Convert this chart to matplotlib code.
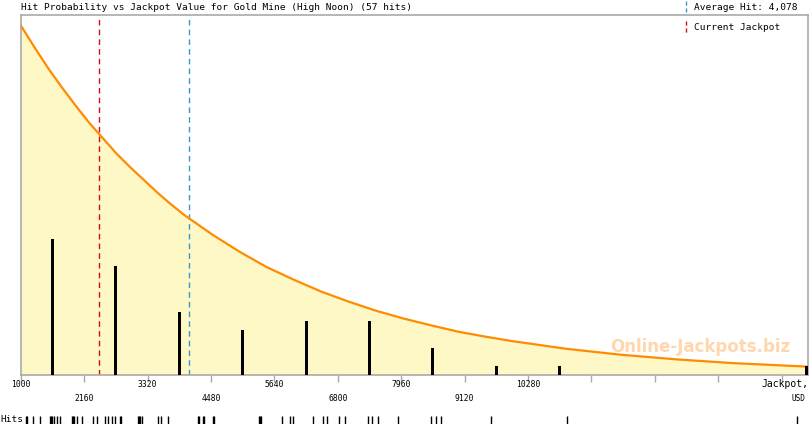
import numpy as np
import matplotlib.pyplot as plt

# histogram of hits (bin width 1160, starting at 1000)
bin_centers = [1580, 2740, 3900, 5060, 6220, 7380, 8540, 9700, 10860, 15370]
bin_counts = [15, 12, 7, 5, 6, 6, 3, 1, 1, 1]

# probability curve (in "hits" units of the bar scale)
curve_x = [1000, 1250, 1500, 1750, 2000, 2250, 2500, 2750, 3000, 3250,
           3500, 3750, 4000, 4500, 5000, 5500, 6000, 6500, 7000, 7500,
           8000, 8500, 9000, 9500, 10000, 11000, 12000, 13000, 14000, 15400]
curve_y = [38.5, 36.1, 33.8, 31.7, 29.7, 27.8, 26.1, 24.4, 22.9, 21.5,
           20.1, 18.8, 17.6, 15.5, 13.6, 11.9, 10.5, 9.2, 8.1, 7.1,
           6.25, 5.5, 4.8, 4.25, 3.75, 2.9, 2.25, 1.75, 1.35, 0.95]

# individual hits for the rug strip
hits = [1097, 1115, 1225, 1353, 1536, 1554, 1572, 1609, 1664, 1718, 1938,
        1956, 1974, 2029, 2121,
        2322, 2395, 2541, 2596, 2669, 2724, 2816, 2834, 3145, 3163, 3182, 3218,
        3505, 3560, 3688, 4236, 4254, 4327, 4346,
        4515, 4533, 5356, 5374, 5393,
        5776, 5923, 5977, 6343, 6526, 6599,
        6819, 6929, 7349, 7422, 7532, 7898,
        8508, 8599, 8691,
        9605, 10994, 15198]

tick_vals = [1000, 2160, 3320, 4480, 5640, 6800, 7960, 9120, 10280,
             11440, 12600, 13760, 14920]
labeled_top = [1000, 3320, 5640, 7960, 10280]
labeled_bottom = [2160, 4480, 6800, 9120]

average_hit = 4078
current_jackpot = 2431
xmin, xmax = 1000, 15400
ymax = 39.6

mono = 'DejaVu Sans Mono'
W, H = 810, 425
fig = plt.figure(figsize=(W / 100, H / 100), dpi=100)
fig.patch.set_facecolor('white')

L, R, T, B = 20.7, 808, 15.3, 375.3
ax = fig.add_axes([L / W, 1 - B / H, (R - L) / W, (B - T) / H])
ax.set_xlim(xmin, xmax)
ax.set_ylim(0, ymax)

ax.fill_between(curve_x, curve_y, 0, color='#fef7c6', lw=0, zorder=1)
ax.plot(curve_x, curve_y, color='#ff8c00', lw=1.6, zorder=3)
ax.bar(bin_centers, bin_counts, width=55, color='black', zorder=4)

ax.axvline(current_jackpot, color='#cc1111', lw=1, ls=(0, (4, 3)), zorder=2)
ax.axvline(average_hit, color='#3399cc', lw=1, ls=(0, (4, 3)), zorder=2)

ax.text(0.977, 0.054, 'Online-Jackpots.biz', transform=ax.transAxes,
        ha='right', va='bottom', fontsize=12, fontweight='bold',
        color='#ffcc99', alpha=0.8, zorder=5)

for s in ax.spines.values():
    s.set_color('#aaaaaa')
    s.set_linewidth(1.2)

ax.set_yticks([])
ax.set_xticks(tick_vals)
ax.set_xticklabels([])
ax.tick_params(axis='x', direction='out', length=5, width=1, color='#aaaaaa')

for v in labeled_top:
    ax.text(v, -0.014, str(v), transform=ax.get_xaxis_transform(),
            ha='center', va='top', fontsize=5.8, family=mono)
for v in labeled_bottom:
    ax.text(v, -0.053, str(v), transform=ax.get_xaxis_transform(),
            ha='center', va='top', fontsize=5.8, family=mono)
ax.text(1.0, -0.01, 'Jackpot,', transform=ax.transAxes, ha='right', va='top',
        fontsize=7, family=mono)
ax.text(0.997, -0.053, 'USD', transform=ax.transAxes, ha='right', va='top',
        fontsize=5.6, family=mono)

fig.text(L / W, 1 - 7 / H, 'Hit Probability vs Jackpot Value for Gold Mine (High Noon) (57 hits)',
         ha='left', va='center', fontsize=6.8, family=mono)

# legend at top right
fig.add_artist(plt.Line2D([686 / W, 686 / W], [1 - 1 / H, 1 - 12 / H],
                          color='#3399cc', lw=1, ls=(0, (3, 2))))
fig.text(694 / W, 1 - 7 / H, 'Average Hit: 4,078', ha='left', va='center',
         fontsize=6.8, family=mono)
fig.add_artist(plt.Line2D([686 / W, 686 / W], [1 - 21 / H, 1 - 33 / H],
                          color='#cc1111', lw=1, ls=(0, (3, 2))))
fig.text(694 / W, 1 - 27 / H, 'Current Jackpot', ha='left', va='center',
         fontsize=6.8, family=mono)

# rug of individual hits
rug = fig.add_axes([L / W, 1 - 424 / H, (R - L) / W, 8 / H])
rug.set_xlim(xmin, xmax)
rug.set_ylim(0, 1)
rug.vlines(hits, 0, 1, color='black', lw=1)
rug.axis('off')
fig.text(0, 1 - 420 / H, 'Hits', ha='left', va='center', fontsize=6.8, family=mono)

fig.savefig('out.png', dpi=100)
